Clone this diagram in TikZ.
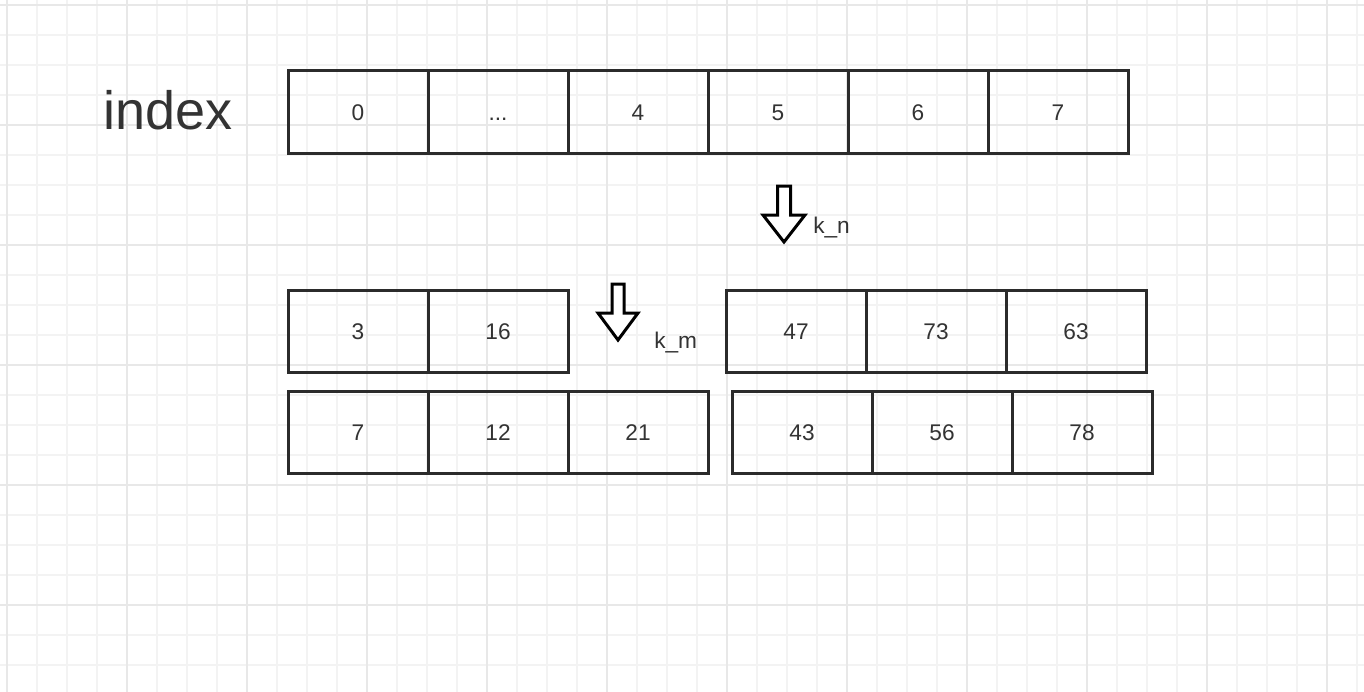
\documentclass[tikz,border=0pt]{standalone}
\usepackage{fontspec}
\setmainfont{Liberation Sans}
\definecolor{gridminor}{HTML}{F3F3F3}
\definecolor{gridmajor}{HTML}{E8E8E8}
\definecolor{ink}{HTML}{333333}
\definecolor{edge}{HTML}{2B2B2B}
\tikzset{
  cell/.style={draw=edge, line width=2.25pt, minimum width=105pt, minimum height=61.5pt,
    inner sep=0pt, text=ink, text height=12.2pt, text depth=0pt,
    font=\fontsize{17}{19}\selectfont},
  lbl/.style={text=ink, inner sep=0pt, font=\fontsize{17}{19}\selectfont},
  blockarrow/.style={draw=black, fill=white, line width=2.25pt},
}
\begin{document}
\begin{tikzpicture}[x=0.75pt,y=-0.75pt]
\useasboundingbox (0,0) rectangle (1364,692);
\fill[white] (0,0) rectangle (1364,692);
% grid
\foreach \gx in {7,37,...,1364} \draw[gridminor, line width=1.1pt] (\gx,0) -- (\gx,692);
\foreach \gy in {5,35,...,692} \draw[gridminor, line width=1.1pt] (0,\gy) -- (1364,\gy);
\foreach \gx in {7,127,...,1364} \draw[gridmajor, line width=1.3pt] (\gx,0) -- (\gx,692);
\foreach \gy in {5,125,...,692} \draw[gridmajor, line width=1.3pt] (0,\gy) -- (1364,\gy);
% title
\node[text=ink, inner sep=0pt, font=\fontsize{40.5}{44}\selectfont] (title) at (168,110) {index};
% row 1
\node[cell] (a0) at (358,112) {0};
\node[cell] (a1) at (498,112) {...};
\node[cell] (a2) at (638,112) {4};
\node[cell] (a3) at (778,112) {5};
\node[cell] (a4) at (918,112) {6};
\node[cell] (a5) at (1058,112) {7};
% row 2
\node[cell] (b0) at (358,331) {3};
\node[cell] (b1) at (498,331) {16};
\node[cell] (c0) at (796,331) {47};
\node[cell] (c1) at (936,331) {73};
\node[cell] (c2) at (1076,331) {63};
% row 3
\node[cell] (d0) at (358,432) {7};
\node[cell] (d1) at (498,432) {12};
\node[cell] (d2) at (638,432) {21};
\node[cell] (e0) at (802,432) {43};
\node[cell] (e1) at (942,432) {56};
\node[cell] (e2) at (1082,432) {78};
% arrows
\draw[blockarrow] (777.5,186) -- (790.5,186) -- (790.5,215) -- (805,215) -- (784,242) -- (763,215) -- (777.5,215) -- cycle;
\draw[blockarrow] (612,284) -- (624,284) -- (624,313) -- (638,313) -- (618,340) -- (598,313) -- (612,313) -- cycle;
\node[lbl, anchor=base west] (kn) at (813,233) {k\_n};
\node[lbl, anchor=base west] (km) at (654,348) {k\_m};
\end{tikzpicture}
\end{document}
